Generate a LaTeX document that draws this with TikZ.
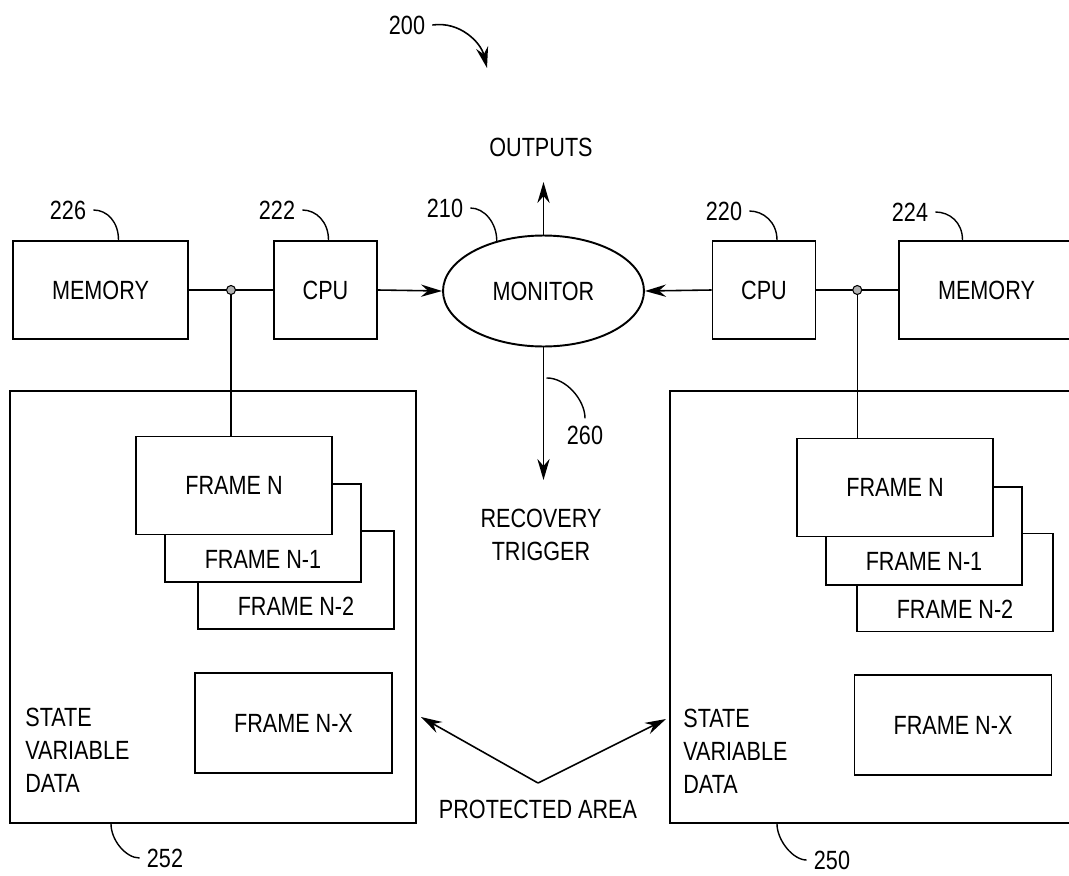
\documentclass[tikz,border=0pt]{standalone}
\usepackage{fontspec}
\setmainfont{Liberation Sans}[FakeStretch=0.82]
\usetikzlibrary{
  calc,
  positioning,
  arrows.meta,
  shapes.geometric}

\begin{document}
\begin{tikzpicture}[
  x=0.02cm, y=-0.02cm,
  font=\fontsize{15}{18.7}\selectfont,
  box/.style={rectangle,draw,line width=1.1pt,fill=white,inner sep=0pt,minimum height=1.96cm},
  framebox/.style={box,minimum width=3.92cm},
  arr/.style={-{Stealth[length=12pt,width=7pt,inset=4pt]},line width=0.9pt},
  leader/.style={line width=0.8pt},
  num/.style={inner sep=4pt}
]%
  \useasboundingbox (0,0) rectangle (1069,876);
  \clip (0,0) rectangle (1069,876);

  % Monitor
  \node[ellipse,draw,line width=1.1pt,minimum width=4.02cm,minimum height=2.22cm,inner sep=0pt]
    (monitor) at (543.5,291) {MONITOR};
  \node (outputs) at (541,147) {OUTPUTS};
  \node[align=center] (recovery) at (541,535) {RECOVERY\\TRIGGER};
  \coordinate (tipOut) at (543.5,182);
  \coordinate (tipRec) at (543.5,480);
  \draw[arr] (monitor.north) -- (tipOut);
  \draw[arr] (monitor.south) -- coordinate[pos=0.23] (on260) (tipRec);

  % Left memory and CPU
  \node[box,minimum width=3.5cm] (memL) at (100.5,290) {MEMORY};
  \node[box,minimum width=2.06cm] (cpuL) at (325.5,290) {CPU};
  \draw[line width=0.9pt] (memL.east) -- coordinate[midway] (jL) (cpuL.west);
  \draw[arr] (cpuL.east) -- (monitor.west);

  % Right memory and CPU
  \node[box,minimum width=2.06cm] (cpuR) at (764,290) {CPU};
  \node[box,minimum width=3.5cm] (memR) at (986.5,290) {MEMORY};
  \draw[line width=0.9pt] (cpuR.east) -- coordinate[midway] (jR) (memR.west);
  \draw[arr] (cpuR.west) -- (monitor.east);

  % Protected areas
  \node[box,minimum width=8.12cm,minimum height=8.64cm] (outerL) at (213,607) {};
  \node[box,minimum width=8.12cm,minimum height=8.64cm] (outerR) at (873,607) {};

  % Left frames
  \node[framebox] (frameN2L) at (296,580) {};
  \node[framebox] (frameN1L) at (263,533) {};
  \node[framebox] (frameNL) at (234,485.5) {FRAME N};
  \node (txtN1L) at ($(frameN1L.south)!0.5!(frameN1L.south |- frameNL.south)$) {FRAME N-1};
  \node (txtN2L) at ($(frameN2L.south)!0.5!(frameN2L.south |- frameN1L.south)$) {FRAME N-2};
  \node[box,minimum width=3.94cm,minimum height=2cm] (frameXL) at (293.5,723) {FRAME N-X};
  \node[align=left,anchor=west,inner sep=0pt] (stateL) at (25,750) {STATE\\VARIABLE\\DATA};

  % Right frames
  \node[framebox] (frameN2R) at (955,582.5) {};
  \node[framebox] (frameN1R) at (924,536) {};
  \node[framebox] (frameNR) at (895,487.5) {FRAME N};
  \node (txtN1R) at ($(frameN1R.south)!0.5!(frameN1R.south |- frameNR.south)$) {FRAME N-1};
  \node (txtN2R) at ($(frameN2R.south)!0.5!(frameN2R.south |- frameN1R.south)$) {FRAME N-2};
  \node[box,minimum width=3.94cm,minimum height=2cm] (frameXR) at (953,725) {FRAME N-X};
  \node[align=left,anchor=west,inner sep=0pt] (stateR) at (683,751) {STATE\\VARIABLE\\DATA};

  % Taps to frame N
  \draw[line width=0.6pt] (jL) -- (jL |- frameNL.north);
  \draw[line width=0.6pt] (jR) -- (jR |- frameNR.north);
  \filldraw[fill=gray!60,line width=0.6pt]
    (jL) circle (4.5)
    (jR) circle (4.5);

  % Protected area pointer
  \node (protected) at (538,809) {PROTECTED AREA};
  \coordinate (vtx) at (538,783);
  \coordinate (tipPL) at (421,717);
  \coordinate (tipPR) at (666,719);
  \draw[arr] (vtx) -- (tipPL);
  \draw[arr] (vtx) -- (tipPR);

  % Reference numerals
  \node[num] (lbl200) at (407,25) {200};
  \coordinate (tip200) at (487,68);
  \draw[arr] (lbl200.east) .. controls +(28,-4) and +(-6,-25) .. (tip200);

  \node[num] (lbl226) at (68,210) {226};
  \draw[leader] (lbl226.east) .. controls +(14,0) and +(0,-18) .. ($(memL.north)+(18,0)$);
  \node[num] (lbl222) at (277,210) {222};
  \draw[leader] (lbl222.east) .. controls +(14,0) and +(0,-18) .. ($(cpuL.north)+(3,0)$);
  \node[num] (lbl210) at (445,208) {210};
  \draw[leader] (lbl210.east) .. controls +(14,0) and +(0,-18) .. (monitor.133);
  \node[num] (lbl220) at (724,211) {220};
  \draw[leader] (lbl220.east) .. controls +(14,0) and +(0,-18) .. ($(cpuR.north)+(13,0)$);
  \node[num] (lbl224) at (910,212) {224};
  \draw[leader] (lbl224.east) .. controls +(14,0) and +(0,-18) .. ($(memR.north)+(-24,0)$);

  \node[num] (lbl260) at (585,435) {260};
  \draw[leader] ($(on260)+(3,0)$) .. controls +(20,0) and +(0,-18) .. (lbl260.north);

  \node[num] (lbl252) at (165,858) {252};
  \draw[leader] ($(outerL.south)+(-102,0)$) .. controls +(0,16) and +(-14,0) .. (lbl252.west);
  \node[num] (lbl250) at (832,860) {250};
  \draw[leader] ($(outerR.south)+(-96,0)$) .. controls +(0,16) and +(-14,0) .. (lbl250.west);

\end{tikzpicture}
\end{document}
